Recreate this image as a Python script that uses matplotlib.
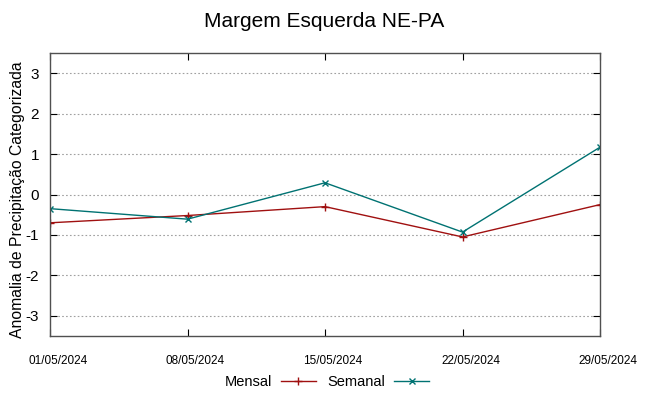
import matplotlib
matplotlib.use('Agg')
import matplotlib.pyplot as plt
import matplotlib.dates as mdates
import matplotlib.transforms as mtransforms
import pandas as pd

plt.rcParams['font.family'] = ['Liberation Sans', 'DejaVu Sans']
plt.rcParams['axes.unicode_minus'] = False

datas = ['2024-05-01', '2024-05-08', '2024-05-15', '2024-05-22', '2024-05-29']
mensal = [-0.70, -0.52, -0.30, -1.05, -0.25]
semanal = [-0.35, -0.61, 0.29, -0.93, 1.17]
yticks = [-3, -2, -1, 0, 1, 2, 3]

x = pd.to_datetime(datas)

fig = plt.figure(figsize=(6.49, 3.96), dpi=100)
ax = fig.add_axes([50 / 649, 1 - 336 / 396, 550 / 649, 283 / 396])

ax.plot(x, mensal, color='#a01010', lw=1.0, marker='+', ms=6, mew=1.0, label='Mensal')
ax.plot(x, semanal, color='#007272', lw=1.0, marker='x', ms=5, mew=1.0, label='Semanal')

ax.set_xlim(x[0], x[-1])
ax.set_ylim(-3.5, 3.5)
ax.set_yticks(yticks)
ax.set_xticks(x)
ax.xaxis.set_major_formatter(mdates.DateFormatter('%d/%m/%Y'))
ax.tick_params(axis='x', labelsize=8.5, direction='in', top=True, length=5, pad=14)
ax.tick_params(axis='y', labelsize=11, direction='in', right=True, length=5, pad=8)
# deslocar os rótulos de data um pouco para a direita
off = mtransforms.ScaledTranslation(8 / 100, 0, fig.dpi_scale_trans)
for lbl in ax.get_xticklabels():
    lbl.set_transform(lbl.get_transform() + off)
ax.grid(axis='y', color='#a0a0a0', linestyle=(0, (1.5, 2)), lw=0.8)
for s in ax.spines.values():
    s.set_color('#505050')
    s.set_linewidth(1.0)

ax.set_ylabel('Anomalia de Precipitação Categorizada', fontsize=11.3)
ax.yaxis.set_label_coords(-25 / 550, (336 - 200) / 283)
fig.suptitle('Margem Esquerda NE-PA', fontsize=15, y=0.97)

fig.legend(loc='center', bbox_to_anchor=(327 / 649, 1 - 382 / 396), ncol=2,
           frameon=False, markerfirst=False, fontsize=10.5, handlelength=2.4,
           columnspacing=0.8, handletextpad=0.6)

fig.savefig('out.png', dpi=100)
